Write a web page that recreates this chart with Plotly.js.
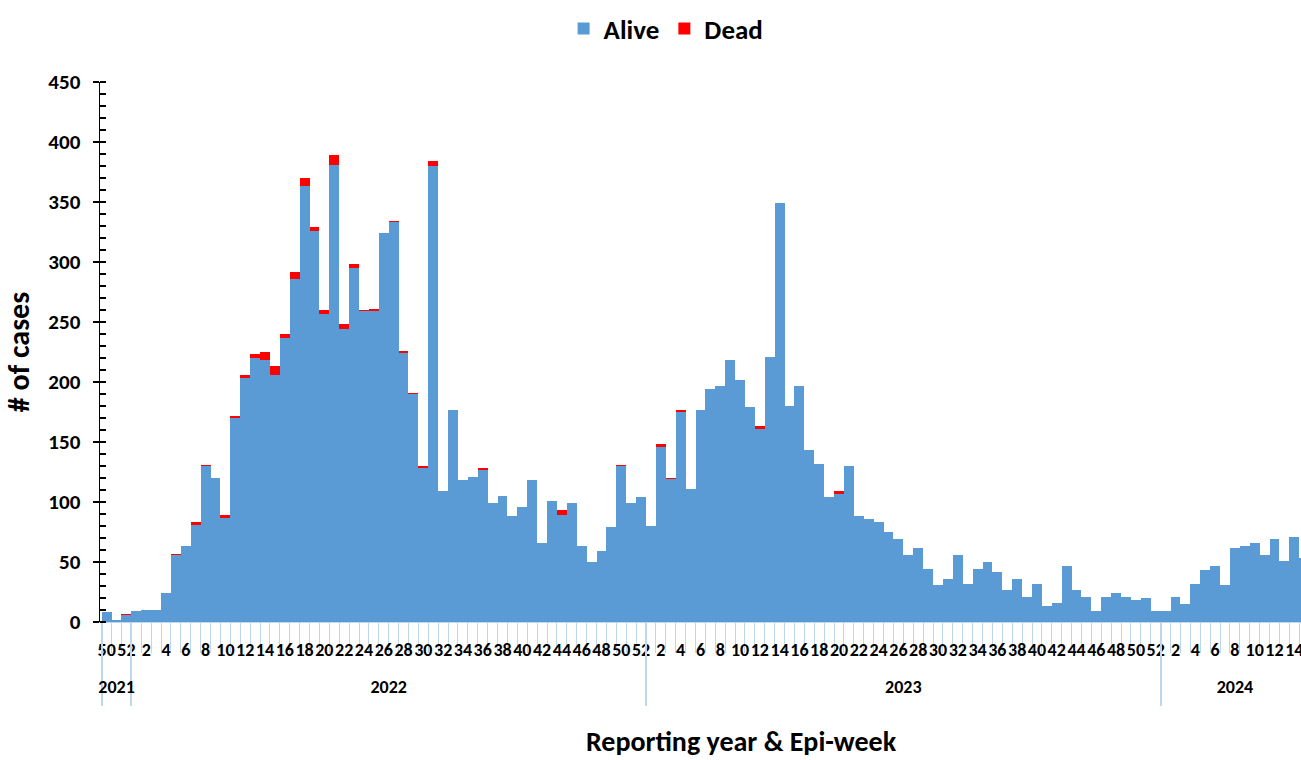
<!DOCTYPE html>
<html>
<head>
<meta charset="utf-8">
<script src="https://cdn.plot.ly/plotly-3.0.1.min.js"></script>
<style>html,body{margin:0;padding:0;background:#fff;}#chart{width:1301px;height:760px;}</style>
</head>
<body>
<div id="chart"></div>
<script>
// ---- data ----
const yearLabels = ['2021', '2022', '2023', '2024'];
const yearFirstWeek = [50, 1, 1, 1];
const yearLastWeek = [52, 52, 52, 15];

const alive = [
  8, 2, 6, 9, 10, 10, 24, 56, 63, 81,
  130, 120, 87, 170, 203, 220, 218, 206, 237, 286,
  363, 326, 257, 381, 244, 295, 259, 259, 324, 333,
  224, 190, 128, 380, 109, 177, 118, 121, 127, 99,
  105, 88, 96, 118, 66, 101, 89, 99, 63, 50,
  59, 79, 130, 99, 104, 80, 146, 119, 175, 111,
  177, 194, 197, 218, 202, 179, 161, 221, 349, 180,
  197, 143, 132, 104, 107, 130, 88, 86, 83, 75,
  69, 56, 62, 44, 31, 36, 56, 32, 44, 50,
  42, 27, 36, 21, 32, 13, 16, 47, 27, 21,
  9, 21, 24, 21, 18, 20, 9, 9, 21, 15,
  32, 43, 47, 31, 62, 63, 66, 56, 69, 51,
  71, 53
];
const dead = [
  0, 0, 1, 0, 0, 0, 0, 1, 0, 2,
  1, 0, 2, 2, 3, 3, 7, 7, 3, 6,
  7, 3, 3, 8, 4, 3, 1, 2, 0, 1,
  2, 1, 2, 4, 0, 0, 0, 0, 1, 0,
  0, 0, 0, 0, 0, 0, 4, 0, 0, 0,
  0, 0, 1, 0, 0, 0, 2, 1, 2, 0,
  0, 0, 0, 0, 0, 0, 2, 0, 0, 0,
  0, 0, 0, 0, 2, 0, 0, 0, 0, 0,
  0, 0, 0, 0, 0, 0, 0, 0, 0, 0,
  0, 0, 0, 0, 0, 0, 0, 0, 0, 0,
  0, 0, 0, 0, 0, 0, 0, 0, 0, 0,
  0, 0, 0, 0, 0, 0, 0, 0, 0, 0,
  0, 0
];

// ---- build category table ----
const weeks = [], years = [], idx = [];
const yearStart = [], yearEnd = [];
yearLabels.forEach((y, k) => {
  yearStart.push(weeks.length);
  for (let w = yearFirstWeek[k]; w <= yearLastWeek[k]; w++) {
    idx.push(weeks.length);
    weeks.push(w);
    years.push(y);
  }
  yearEnd.push(weeks.length - 1);
});
const weekTickVals = [], weekTickText = [];
weeks.forEach((w, i) => { if (w % 2 === 0) { weekTickVals.push(i); weekTickText.push(String(w)); } });
const yearBoundaries = yearStart.map(s => s - 0.5);
const yearCenters = yearStart.map((s, k) => (s + yearEnd[k]) / 2);

const FONT = 'Carlito, Lato, "Open Sans", sans-serif';
const LIGHT = '#bdd7ee';
const xRange = [-0.67, 120.68];

const traces = [
  { type: 'bar', name: 'Alive', x: idx, y: alive, marker: { color: '#5B9BD5', line: { width: 0 } } },
  { type: 'bar', name: 'Dead', x: idx, y: dead, marker: { color: '#FF0000', line: { width: 0 } } }
];

const layout = {
  width: 1301, height: 760,
  margin: { l: 100, r: 0, t: 82, b: 138, autoexpand: false },
  paper_bgcolor: '#fff', plot_bgcolor: '#fff',
  barmode: 'stack', bargap: 0,
  font: { family: FONT, color: '#000', size: 16, weight: 700 },
  showlegend: true,
  legend: {
    orientation: 'h', traceorder: 'normal',
    xref: 'container', yref: 'container',
    x: 0.512, xanchor: 'center', y: 0.962, yanchor: 'middle',
    font: { family: FONT, size: 27, weight: 700, color: '#000' },
    itemwidth: 30, tracegroupgap: 0
  },
  xaxis: {
    range: xRange, tickmode: 'linear', tick0: -0.5, dtick: 1,
    ticks: 'outside', ticklen: 30, tickwidth: 1, tickcolor: LIGHT,
    showticklabels: false, showgrid: false, zeroline: false,
    showline: true, linecolor: LIGHT, linewidth: 1, fixedrange: true
  },
  xaxis2: {
    overlaying: 'x', anchor: 'y', side: 'bottom', range: xRange,
    tickmode: 'array', tickvals: weekTickVals, ticktext: weekTickText,
    ticks: '', showgrid: false, zeroline: false, showline: false,
    tickfont: { family: FONT, size: 18, weight: 700, color: '#000' },
    ticklabelstandoff: 15, tickangle: 0, ticklabeloverflow: 'allow'
  },
  xaxis3: {
    overlaying: 'x', anchor: 'y', side: 'bottom', range: xRange,
    tickmode: 'array', tickvals: yearBoundaries, ticktext: yearBoundaries.map(() => ''),
    ticks: 'outside', ticklen: 83, tickwidth: 2, tickcolor: LIGHT,
    showgrid: false, zeroline: false, showline: false
  },
  xaxis4: {
    overlaying: 'x', anchor: 'y', side: 'bottom', range: xRange,
    tickmode: 'array', tickvals: yearCenters, ticktext: yearLabels,
    ticks: '', showgrid: false, zeroline: false, showline: false,
    tickfont: { family: FONT, size: 18, weight: 700, color: '#000' },
    ticklabelstandoff: 52, tickangle: 0
  },
  yaxis: {
    range: [0, 450], tickmode: 'linear', tick0: 0, dtick: 50,
    ticks: 'outside', ticklen: 6, tickwidth: 1.5, tickcolor: '#000',
    minor: { dtick: 10, ticks: 'inside', ticklen: 6, tickwidth: 1.5, tickcolor: '#000', showgrid: false },
    showline: true, linecolor: '#000', linewidth: 1.5,
    showgrid: false, zeroline: false,
    tickfont: { family: FONT, size: 21, weight: 700, color: '#000' },
    ticklabelstandoff: 8,
    title: { text: '# of cases', font: { family: FONT, size: 30, weight: 700, color: '#000' }, standoff: 10 }
  },
  yaxis2: {
    overlaying: 'y', anchor: 'x', side: 'left', range: [0, 450],
    tickmode: 'linear', tick0: 0, dtick: 50,
    ticks: 'inside', ticklen: 6, tickwidth: 1.5, tickcolor: '#000',
    showticklabels: false, showgrid: false, zeroline: false, showline: false
  },
  annotations: [
    { xref: 'paper', yref: 'paper', x: 0.534, y: -0.222, xanchor: 'center', yanchor: 'middle',
      text: 'Reporting year & Epi-week', showarrow: false,
      font: { family: FONT, size: 28, weight: 700, color: '#000' } }
  ]
};

traces.push({ type: 'scatter', x: [], y: [], xaxis: 'x2', yaxis: 'y', showlegend: false, hoverinfo: 'skip' });
traces.push({ type: 'scatter', x: [], y: [], xaxis: 'x3', yaxis: 'y', showlegend: false, hoverinfo: 'skip' });
traces.push({ type: 'scatter', x: [], y: [], xaxis: 'x4', yaxis: 'y', showlegend: false, hoverinfo: 'skip' });
traces.push({ type: 'scatter', x: [], y: [], xaxis: 'x', yaxis: 'y2', showlegend: false, hoverinfo: 'skip' });

Plotly.newPlot('chart', traces, layout, { displayModeBar: false, staticPlot: true });
</script>
</body>
</html>
